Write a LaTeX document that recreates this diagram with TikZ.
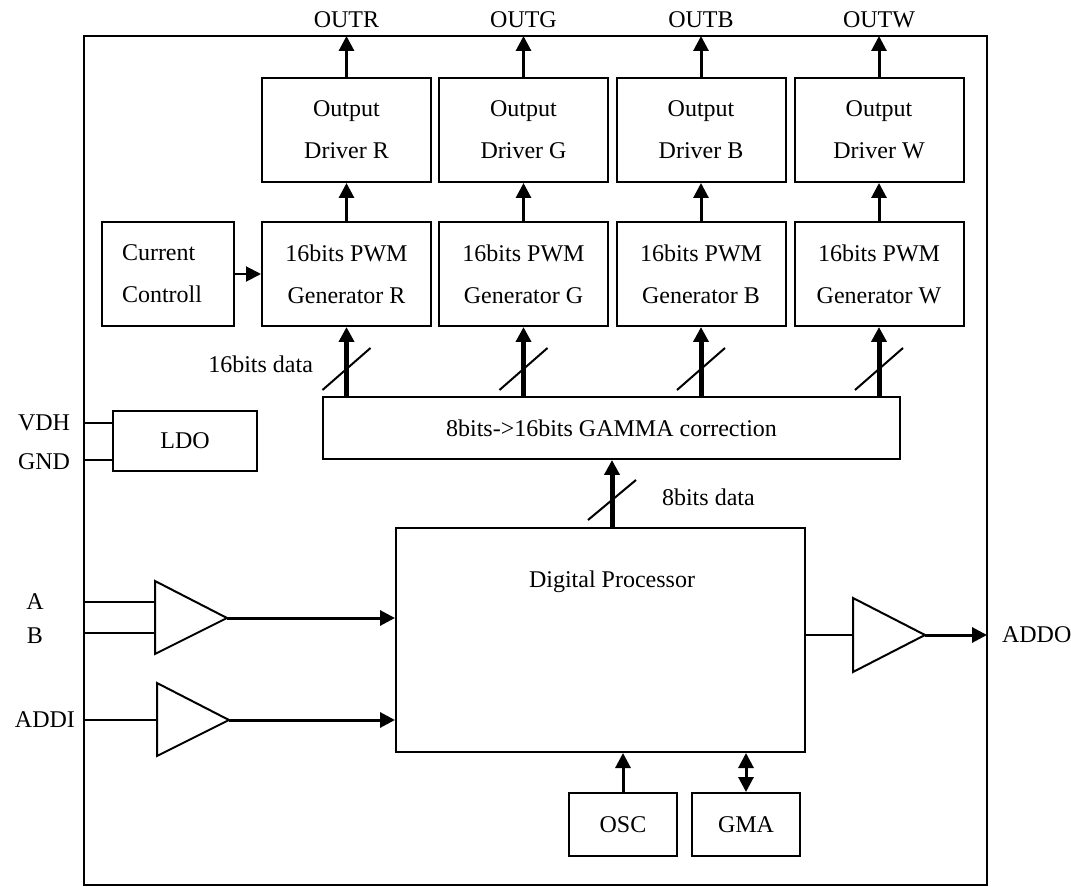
\documentclass[tikz,border=0pt]{standalone}
\usepackage{fontspec}
\setmainfont{Liberation Serif}
\usetikzlibrary{arrows.meta}

\tikzset{
  blk/.style={draw, line width=1pt, minimum width=84.5pt, minimum height=52pt,
    inner sep=0pt, align=center, font=\fontsize{12}{21}\selectfont},
  wire/.style={line width=1pt},
  sig/.style={line width=1.5pt, -{Triangle[length=7.5pt,width=7.5pt]}},
  bus/.style={line width=2.5pt, -{Triangle[length=7.5pt,width=7.5pt]}},
  amp/.style={draw, line width=1pt, line join=miter},
}

\begin{document}
\begin{tikzpicture}[x=0.5pt, y=-0.5pt, font=\fontsize{12}{14}\selectfont]
\useasboundingbox (0,0) rectangle (1071,887);

% chip outline
\draw[wire] (84,36) rectangle (987,885);

% gamma table
\node[blk, minimum width=288.5pt, minimum height=31pt] (gamma) at (611.5,428) {8bits->16bits GAMMA correction};

% four colour channels: driver, pwm, bus from gamma
\foreach \c/\x in {R/346.5, G/523.5, B/701, W/879} {
  \node[blk] (drv\c) at (\x,130) {Output\\Driver \c};
  \node[blk] (pwm\c) at (\x,274) {16bits PWM\\Generator \c};
  \node (out\c) at (\x,20) {OUT\c};
  \coordinate (top\c) at (\x,36);
  \draw[sig] (drv\c) -- (top\c);
  \draw[sig] (pwm\c) -- (drv\c);
  \draw[bus] (gamma.north -| pwm\c) -- (pwm\c.south);
  \draw[wire] (\x-24,390) -- (\x+24,348);
}
\node[anchor=east] (busw) at (320,364) {16bits data};

% current control
\node[blk, minimum width=66pt, text width=46pt, inner xsep=10pt, align=left] (cur) at (168,274) {Current\\Controll};
\draw[line width=1pt, -{Triangle[length=7.5pt,width=7.5pt]}] (cur) -- (pwmR);

% supply
\node[blk, minimum width=72pt, minimum height=30pt] (ldo) at (185,441) {LDO};
\coordinate (pinVDH) at (84,423);
\coordinate (pinGND) at (84,460);
\draw[wire] (pinVDH) -- (pinVDH -| ldo.west);
\draw[wire] (pinGND) -- (pinGND -| ldo.west);
\node (vdh) at (44,423) {VDH};
\node (gnd) at (44,462) {GND};

% digital processor
\node[draw, line width=1pt, minimum width=204.5pt, minimum height=112pt] (dp) at (600.5,640) {};
\node (dptext) at (612,582) {Digital Processor};
\draw[bus] (dp.north -| 612,0) -- (gamma.south -| 612,0);
\draw[wire] (588,520) -- (636,480);
\node[anchor=west] (bus8) at (655,497) {8bits data};

% input buffers
\draw[amp] (155,581) -- (227,618) -- (155,654) -- cycle;
\coordinate (abo) at (227,618);
\coordinate (pinA) at (84,602);
\coordinate (pinB) at (84,633);
\draw[wire] (pinA) -- (155,602);
\draw[wire] (pinB) -- (155,633);
\draw[sig] (abo) -- (abo -| dp.west);
\node (la) at (35,602) {A};
\node (lb) at (35,636) {B};

\draw[amp] (157,683) -- (229,720) -- (157,756) -- cycle;
\coordinate (addio) at (229,720);
\coordinate (pinADDI) at (84,720);
\draw[wire] (pinADDI) -- (157,720);
\draw[sig] (addio) -- (addio -| dp.west);
\node[anchor=east] (laddi) at (82,720) {ADDI};

% output buffer
\draw[amp] (853,598) -- (925,635) -- (853,672) -- cycle;
\coordinate (addoi) at (853,635);
\coordinate (addoo) at (925,635);
\coordinate (pinADDO) at (987,635);
\draw[wire] (addoi -| dp.east) -- (addoi);
\draw[sig] (addoo) -- (pinADDO);
\node[anchor=west] (laddo) at (995,635) {ADDO};

% clock and gamma memory
\node[blk, minimum width=54pt, minimum height=31.5pt] (osc) at (623,824.5) {OSC};
\node[blk, minimum width=54pt, minimum height=31.5pt] (gma) at (746,824.5) {GMA};
\draw[sig] (osc) -- (osc |- dp.south);
\draw[line width=1.5pt, {Triangle[length=7.5pt,width=7.5pt]}-{Triangle[length=7.5pt,width=7.5pt]}] (gma) -- (gma |- dp.south);

\end{tikzpicture}
\end{document}
